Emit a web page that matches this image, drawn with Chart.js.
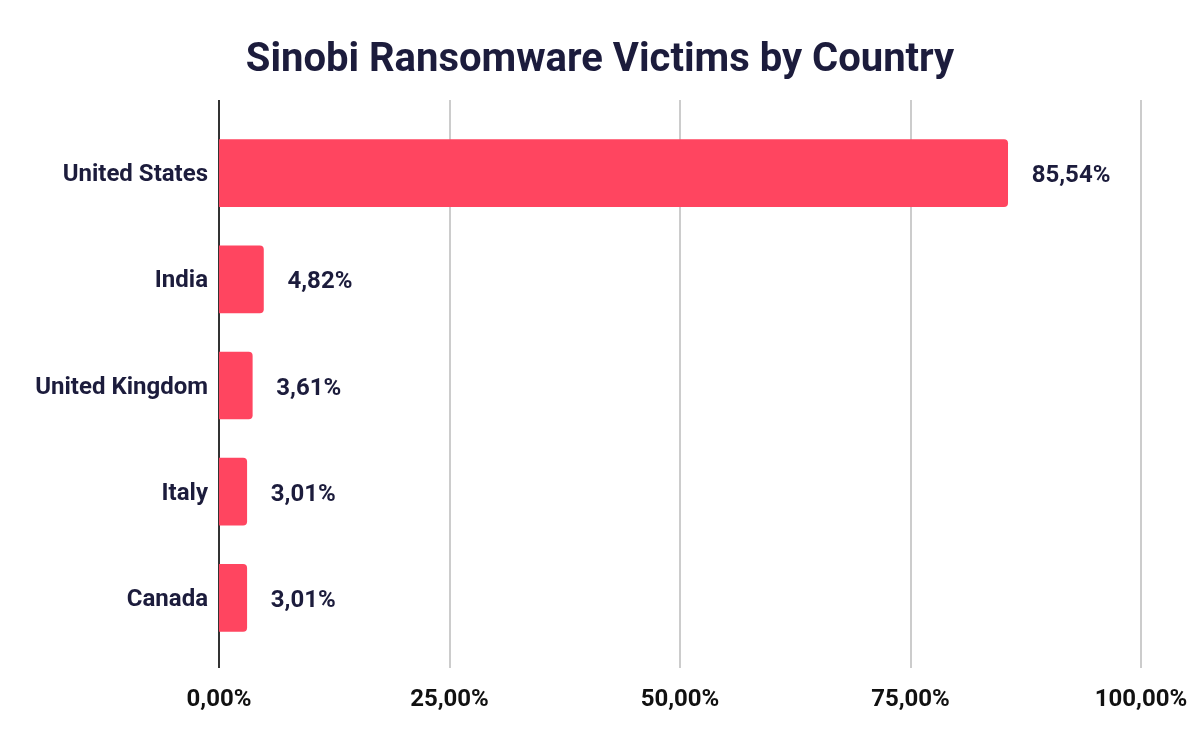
<!DOCTYPE html>
<html>
<head>
<meta charset="utf-8">
<script src="https://cdn.jsdelivr.net/npm/chart.js@4"></script>
<style>
  html, body { margin: 0; padding: 0; background: #fff; }
  #wrap { width: 1200px; height: 742px; }
</style>
</head>
<body>
<div id="wrap"><canvas id="countryChart" width="1200" height="742"></canvas></div>
<script>
// dati
const countries = ["United States", "India", "United Kingdom", "Italy", "Canada"];
const victimShare = [85.54, 4.82, 3.61, 3.01, 3.01];
const xTicks = [0, 25, 50, 75, 100];

const navy = "#1c1c3c";
const barColor = "#ff4560";

function fmtPct(v) {
  return v.toFixed(2).replace(".", ",") + "%";
}

// linee verticali della griglia, un po' più lunghe dell'area del grafico
const gridPlugin = {
  id: "gridExt",
  beforeDatasetsDraw(chart) {
    const ctx = chart.ctx;
    const area = chart.chartArea;
    const x = chart.scales.x;
    ctx.save();
    xTicks.forEach(function (t) {
      const px = Math.round(x.getPixelForValue(t));
      ctx.beginPath();
      ctx.lineWidth = 2;
      ctx.strokeStyle = t === 0 ? "#333333" : "#cccccc";
      ctx.moveTo(px, area.top - 20);
      ctx.lineTo(px, area.bottom + 17);
      ctx.stroke();
    });
    ctx.restore();
  }
};

// etichette dei valori a destra delle barre
const valueLabels = {
  id: "valueLabels",
  afterDatasetsDraw(chart) {
    const ctx = chart.ctx;
    const meta = chart.getDatasetMeta(0);
    ctx.save();
    ctx.font = "bold 24px Roboto";
    ctx.fillStyle = navy;
    ctx.textAlign = "left";
    ctx.textBaseline = "middle";
    meta.data.forEach(function (bar, i) {
      ctx.fillText(fmtPct(victimShare[i]), bar.x + 24, bar.y + 3);
    });
    ctx.restore();
  }
};

const ctx = document.getElementById("countryChart").getContext("2d");
const myBarChart = new Chart(ctx, {
  type: "bar",
  data: {
    labels: countries,
    datasets: [
      {
        label: "Victims",
        data: victimShare,
        backgroundColor: barColor,
        borderWidth: 0,
        barThickness: 67,
        borderRadius: { topRight: 4, bottomRight: 4, topLeft: 0, bottomLeft: 0 },
        borderSkipped: false,
      },
    ],
  },
  options: {
    indexAxis: "y",
    responsive: false,
    animation: false,
    layout: { padding: 0 },
    plugins: {
      legend: { display: false },
      tooltip: { enabled: false },
      title: {
        display: true,
        text: "Sinobi Ransomware Victims by Country",
        color: navy,
        font: { family: "Roboto", size: 40, weight: "bold" },
        padding: { top: 37, bottom: 35 },
      },
    },
    scales: {
      x: {
        min: 0,
        max: 100,
        afterBuildTicks(scale) {
          scale.ticks = xTicks.map(function (v) { return { value: v }; });
        },
        afterFit(scale) {
          scale.height = 91;
          scale.paddingLeft = 0;
          scale.paddingRight = 59;
        },
        grid: { display: false, drawTicks: false },
        border: { display: false },
        ticks: {
          padding: 35,
          color: "#111111",
          font: { family: "Roboto", size: 24, weight: "bold" },
          callback: function (v) { return fmtPct(v); },
        },
      },
      y: {
        afterFit(scale) { scale.width = 219; },
        grid: { display: false, drawTicks: false },
        border: { display: false },
        ticks: {
          padding: 11,
          labelOffset: 2,
          color: navy,
          font: { family: "Roboto", size: 24, weight: "bold" },
        },
      },
    },
  },
  plugins: [gridPlugin, valueLabels],
});
</script>
</body>
</html>
